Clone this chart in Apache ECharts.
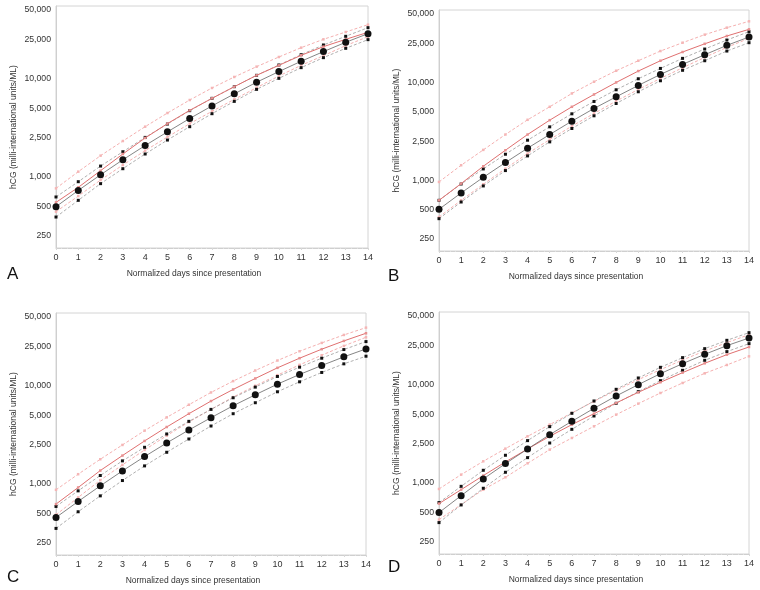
<!DOCTYPE html>
<html><head><meta charset="utf-8">
<script src="https://cdn.jsdelivr.net/npm/echarts@6/dist/echarts.min.js"></script>
<style>html,body{margin:0;padding:0;background:#fff}#c{width:760px;height:590px}</style>
</head><body><div id="c"></div>
<script>
const days = [0,1,2,3,4,5,6,7,8,9,10,11,12,13,14];
const yTicks = [250,500,1000,2500,5000,10000,25000,50000];
const panelLetters = ['A','B','C','D'];

// Panel A
const aMean  = [497,728,1050,1493,2085,2872,3926,5280,6998,9190,11800,15030,18840,23440,28720];
const aUp    = [624,893,1288,1803,2523,3451,4721,6302,8279,10810,13770,17540,22020,26980,33040];
const aLow   = [390,577,853,1211,1709,2371,3243,4397,5872,7780,10070,12940,16360,20360,24950];
const aRed   = [550,782,1156,1709,2489,3483,4755,6302,8279,10810,13660,17280,21170,25140,29620];
const aRedUp = [764,1130,1644,2317,3243,4467,6060,8035,10400,13240,16610,20670,25140,29850,35440];
const aRedLo = [442,638,929,1321,1849,2547,3483,4645,6152,8091,10640,13660,17140,21680,26760];
// Panel B
const bMean  = [504,740,1069,1513,2123,2928,4009,5405,7112,9298,12050,15260,19160,23880,29070];
const bUp    = [622,914,1303,1841,2562,3508,4766,6376,8395,10880,13880,17580,21900,27080,32960];
const bLow   = [404,598,873,1253,1770,2463,3373,4550,6081,8009,10380,13280,16630,20890,25430];
const bRed   = [622,922,1387,2023,2928,4105,5623,7516,9977,13040,16630,20420,24760,29770,34830];
const bRedUp = [959,1421,2039,2928,4140,5623,7698,10140,13140,16630,20890,25430,30720,36220,42060];
const bRedLo = [420,622,908,1312,1871,2600,3565,4808,6427,8460,10960,14100,17990,22790,28180];
// Panel C
const cMean  = [455,662,955,1355,1896,2609,3535,4717,6243,8074,10360,12990,16030,19630,23660];
const cUp    = [589,849,1216,1714,2357,3221,4329,5731,7527,9661,12400,15420,19030,23300,28090];
const cLow   = [352,520,755,1081,1524,2097,2864,3881,5179,6699,8661,10940,13620,16670,19940];
const cRed   = [622,918,1366,1941,2735,3793,5179,6966,9148,11830,15180,19030,23500,28530,34140];
const cRedUp = [870,1254,1781,2490,3480,4753,6392,8527,11120,14260,18020,22410,27230,32830,38960];
const cRedLo = [485,727,1090,1560,2215,3097,4262,5731,7645,9966,12790,16280,20410,25380,31080];
// Panel D
const dMean  = [498,741,1096,1570,2213,3097,4233,5741,7666,10000,12940,16360,20360,24950,29850];
const dUp    = [630,922,1343,1910,2692,3736,5107,6818,8965,11690,15010,18830,23250,28270,33830];
const dLow   = [394,596,881,1282,1807,2547,3508,4797,6457,8486,10980,13990,17690,21680,26150];
const dRed   = [615,853,1186,1633,2213,2979,3917,5067,6506,8356,10570,13240,16490,20200,24170];
const dRedUp = [867,1213,1658,2231,2979,3917,5147,6765,8757,11240,14210,17830,22010,26770,32280];
const dRedLo = [423,600,853,1140,1582,2179,2864,3765,4949,6406,8226,10400,13040,15860,19430];

const panels = [
  {mean:aMean, up:aUp, low:aLow, red:aRed, redUp:aRedUp, redLo:aRedLo},
  {mean:bMean, up:bUp, low:bLow, red:bRed, redUp:bRedUp, redLo:bRedLo},
  {mean:cMean, up:cUp, low:cLow, red:cRed, redUp:cRedUp, redLo:cRedLo},
  {mean:dMean, up:dUp, low:dLow, red:dRed, redUp:dRedUp, redLo:dRedLo}
];

const FONT = '"Liberation Sans", Arial, Helvetica, sans-serif';
const grids = [
  {left:56, top:6, width:312, height:242},
  {left:439, top:10, width:310, height:241},
  {left:56, top:313, width:310, height:242},
  {left:439, top:312, width:310, height:242}
];
const letterPos = [[7,266],[388,268],[7,569],[388,559]];
const fmt = v => Number(v).toLocaleString('en-US');

const xAxes = [], yAxes = [], series = [], graphics = [];
grids.forEach((g, i) => {
  xAxes.push({
    gridIndex:i, type:'value', min:0, max:14, interval:1,
    name:'Normalized days since presentation', nameLocation:'middle', nameGap:21,
    nameTextStyle:{fontFamily:FONT, fontSize:8.5, color:'#333', padding:[0,36,0,0]},
    axisLine:{show:true, lineStyle:{color:'#cfcfcf', width:1}},
    axisTick:{show:true, length:2, lineStyle:{color:'#d8d8d8'}},
    minorTick:{show:true, splitNumber:4, length:1, lineStyle:{color:'#e0e0e0'}},
    axisLabel:{fontFamily:FONT, fontSize:9, color:'#333', margin:5},
    splitLine:{show:false}
  });
  yAxes.push({
    gridIndex:i, type:'log', logBase:10, min:188.7, max:54900,
    name:'hCG (milli-international units/ML)', nameLocation:'middle', nameGap:38,
    nameTextStyle:{fontFamily:FONT, fontSize:8.5, color:'#333'},
    axisLine:{show:true, lineStyle:{color:'#cfcfcf', width:1}},
    axisTick:{show:false, customValues:yTicks},
    axisLabel:{fontFamily:FONT, fontSize:8.7, color:'#333', margin:5, customValues:yTicks, formatter:v=>fmt(v)},
    splitLine:{show:false}
  });
  const p = panels[i];
  const mk = arr => days.map((d,k)=>[d, arr[k]]);
  const base = {type:'line', xAxisIndex:i, yAxisIndex:i, silent:true, animation:false, z:2};
  series.push(Object.assign({}, base, {name:'redUp', data:mk(p.redUp), symbol:'rect', symbolSize:2.5,
    itemStyle:{color:'#f5b5b5'}, lineStyle:{color:'#f5b0b0', width:1, type:[3,2]}}));
  series.push(Object.assign({}, base, {name:'redLo', data:mk(p.redLo), symbol:'rect', symbolSize:2.5,
    itemStyle:{color:'#f5b5b5'}, lineStyle:{color:'#f5b0b0', width:1, type:[3,2]}}));
  series.push(Object.assign({}, base, {name:'up', data:mk(p.up), symbol:'rect', symbolSize:3,
    itemStyle:{color:'#111'}, lineStyle:{color:'#9a9a9a', width:0.8, type:[3,2]}}));
  series.push(Object.assign({}, base, {name:'low', data:mk(p.low), symbol:'rect', symbolSize:3,
    itemStyle:{color:'#111'}, lineStyle:{color:'#9a9a9a', width:0.8, type:[3,2]}}));
  series.push(Object.assign({}, base, {name:'red', data:mk(p.red), symbol:'rect', symbolSize:2.5, z:3,
    itemStyle:{color:'#e89090'}, lineStyle:{color:'#e07070', width:1}}));
  series.push(Object.assign({}, base, {name:'mean', data:mk(p.mean), symbol:'circle', symbolSize:7, z:4,
    itemStyle:{color:'#111'}, lineStyle:{color:'#666', width:0.8}}));
  graphics.push({type:'text', left:letterPos[i][0], top:letterPos[i][1],
    style:{text:panelLetters[i], font:'17px '+FONT, fill:'#111'}});
});

const chart = echarts.init(document.getElementById('c'), null, {renderer:'canvas'});
chart.setOption({
  backgroundColor:'#fff',
  animation:false,
  grid: grids.map(g=>Object.assign({show:true, borderColor:'#d4d4d4', borderWidth:1, backgroundColor:'transparent'}, g)),
  xAxis:xAxes, yAxis:yAxes, series:series, graphic:graphics
});
</script></body></html>
